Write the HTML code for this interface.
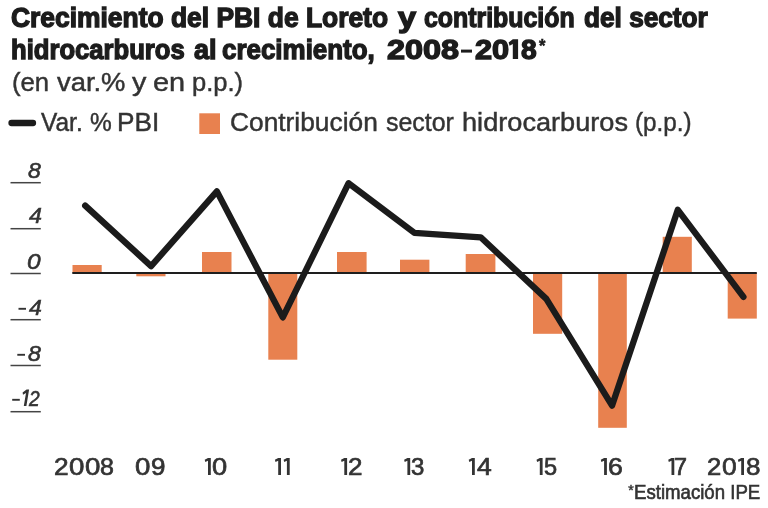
<!DOCTYPE html>
<html><head><meta charset="utf-8"><title>Crecimiento del PBI de Loreto</title>
<style>
html,body{margin:0;padding:0;background:#fff;}
body{width:768px;height:508px;position:relative;overflow:hidden;font-family:"Liberation Sans",sans-serif;}
#wrap{position:absolute;left:0;top:0;width:768px;height:508px;filter:blur(0.7px);}
.t{-webkit-text-stroke:0.45px currentColor;position:absolute;height:40px;line-height:0;white-space:nowrap;transform-origin:0 0;font-family:"Liberation Sans",sans-serif;}
.s{display:inline-block;height:40px;width:0;}
</style></head><body><div id="wrap">
<svg width="768" height="508" viewBox="0 0 768 508" style="position:absolute;left:0;top:0">
<rect x="72.5" y="265" width="29.2" height="8.0" fill="#e8814f"/>
<rect x="136.3" y="273.0" width="29.2" height="3.3" fill="#e8814f"/>
<rect x="202" y="252" width="29.5" height="21.0" fill="#e8814f"/>
<rect x="268.3" y="273.0" width="29.0" height="86.7" fill="#e8814f"/>
<rect x="337" y="252" width="29.6" height="21.0" fill="#e8814f"/>
<rect x="400" y="259.7" width="29.4" height="13.3" fill="#e8814f"/>
<rect x="465.7" y="254" width="29.7" height="19.0" fill="#e8814f"/>
<rect x="533" y="273.0" width="29.2" height="60.8" fill="#e8814f"/>
<rect x="598.2" y="273.0" width="28.6" height="154.8" fill="#e8814f"/>
<rect x="662.7" y="236.8" width="29.1" height="36.2" fill="#e8814f"/>
<rect x="727.7" y="273.0" width="29.1" height="45.6" fill="#e8814f"/>
<line x1="72.3" y1="273.0" x2="756.8" y2="273.0" stroke="#1e1e1e" stroke-width="1.9"/>
<line x1="10.5" y1="182.7" x2="40.8" y2="182.7" stroke="#444" stroke-width="1.5"/>
<line x1="10.5" y1="228.7" x2="40.8" y2="228.7" stroke="#444" stroke-width="1.5"/>
<line x1="10.5" y1="273.5" x2="40.8" y2="273.5" stroke="#444" stroke-width="1.5"/>
<line x1="10.5" y1="319.7" x2="40.8" y2="319.7" stroke="#444" stroke-width="1.5"/>
<line x1="10.5" y1="365.5" x2="40.8" y2="365.5" stroke="#444" stroke-width="1.5"/>
<line x1="10.5" y1="411.7" x2="40.8" y2="411.7" stroke="#444" stroke-width="1.5"/>
<polyline fill="none" stroke="#1b1b1b" stroke-width="6.3" stroke-linecap="round" stroke-linejoin="round" points="85.2,205.6 151.1,266.1 216.9,191.4 282.8,317.4 348.6,183.2 414.3,232.8 480.7,237.3 546.3,298.9 612.1,405.6 677.8,209.8 743.4,296.9"/>
<line x1="18.5" y1="308.8" x2="26.0" y2="308.8" stroke="#333" stroke-width="1.9"/>
<line x1="17.3" y1="354.8" x2="25.0" y2="354.8" stroke="#333" stroke-width="1.9"/>
<line x1="12.2" y1="399.8" x2="19.8" y2="399.8" stroke="#333" stroke-width="1.9"/>
<path fill="#333" d="M208.0,457.9 H210.8 V475.0 H208.0 V460.7 L205.3,462.1 L204.7,459.8 Z"/>
<path fill="#333" d="M278.2,457.9 H281.0 V475.0 H278.2 V460.7 L275.5,462.1 L274.9,459.8 Z"/>
<path fill="#333" d="M286.9,457.9 H289.7 V475.0 H286.9 V460.7 L284.2,462.1 L283.6,459.8 Z"/>
<path fill="#333" d="M344.3,457.9 H347.1 V475.0 H344.3 V460.7 L341.6,462.1 L341.0,459.8 Z"/>
<path fill="#333" d="M407.4,457.9 H410.2 V475.0 H407.4 V460.7 L404.7,462.1 L404.1,459.8 Z"/>
<path fill="#333" d="M472.0,457.9 H474.8 V475.0 H472.0 V460.7 L469.3,462.1 L468.7,459.8 Z"/>
<path fill="#333" d="M539.8,457.9 H542.6 V475.0 H539.8 V460.7 L537.1,462.1 L536.5,459.8 Z"/>
<path fill="#333" d="M604.1,457.9 H606.9 V475.0 H604.1 V460.7 L601.4,462.1 L600.8,459.8 Z"/>
<path fill="#333" d="M671.5,457.9 H674.3 V475.0 H671.5 V460.7 L668.8,462.1 L668.2,459.8 Z"/>
<path fill="#333" d="M741.2,457.9 H744.0 V475.0 H741.2 V460.7 L738.5,462.1 L737.9,459.8 Z"/>
<path fill="#333" d="M23.8,406 L26.4,406 L29.1,389.6 L26.6,389.6 L22.6,392.6 L23.0,394.7 L26.0,392.9 Z"/>
<line x1="461" y1="51.1" x2="472" y2="51.1" stroke="#1c1c1c" stroke-width="3"/>
<path fill="#1c1c1c" d="M512.8,39.3 H518.1 V59 H512.8 V44.0 L509.6,45.7 L508.6,42.6 Z"/>
<line x1="11.5" y1="123" x2="33" y2="123" stroke="#1b1b1b" stroke-width="6.3" stroke-linecap="round"/>
<rect x="199.3" y="113.3" width="20.7" height="20.7" fill="#e8814f"/>
</svg>
<div class="t" style="left:10.84px;top:-13.00px;font-size:27.5px;color:#1c1c1c;transform:scaleX(0.9601);font-weight:bold;-webkit-text-stroke:1.35px #1c1c1c"><i class="s"></i>Crecimiento del PBI de Loreto</div>
<div class="t" style="left:397.80px;top:-13.00px;font-size:27.5px;color:#1c1c1c;transform:scaleX(1.1812);font-weight:bold;-webkit-text-stroke:1.35px #1c1c1c"><i class="s"></i>y</div>
<div class="t" style="left:424.30px;top:-13.00px;font-size:27.5px;color:#1c1c1c;transform:scaleX(0.9042);font-weight:bold;-webkit-text-stroke:1.35px #1c1c1c"><i class="s"></i>contribución</div>
<div class="t" style="left:584.05px;top:-13.00px;font-size:27.5px;color:#1c1c1c;transform:scaleX(0.9527);font-weight:bold;-webkit-text-stroke:1.35px #1c1c1c"><i class="s"></i>del sector</div>
<div class="t" style="left:11.07px;top:19.00px;font-size:27.5px;color:#1c1c1c;transform:scaleX(0.9319);font-weight:bold;-webkit-text-stroke:1.35px #1c1c1c"><i class="s"></i>hidrocarburos</div>
<div class="t" style="left:194.00px;top:19.00px;font-size:27.5px;color:#1c1c1c;transform:scaleX(0.9818);font-weight:bold;-webkit-text-stroke:1.35px #1c1c1c"><i class="s"></i>al</div>
<div class="t" style="left:222.06px;top:19.00px;font-size:27.5px;color:#1c1c1c;transform:scaleX(0.9431);font-weight:bold;-webkit-text-stroke:1.35px #1c1c1c"><i class="s"></i>crecimiento,</div>
<div class="t" style="left:386.60px;top:19.00px;font-size:27.5px;color:#1c1c1c;transform:scaleX(1.1787);font-weight:bold;-webkit-text-stroke:1.35px #1c1c1c"><i class="s"></i>2008</div>
<div class="t" style="left:474.90px;top:19.00px;font-size:27.5px;color:#1c1c1c;transform:scaleX(1.1167);font-weight:bold;-webkit-text-stroke:1.35px #1c1c1c"><i class="s"></i>20</div>
<div class="t" style="left:521.30px;top:19.00px;font-size:27.5px;color:#1c1c1c;transform:scaleX(1.0267);font-weight:bold;-webkit-text-stroke:1.35px #1c1c1c"><i class="s"></i>8</div>
<div class="t" style="left:539.40px;top:11.80px;font-size:17.5px;color:#1c1c1c;transform:scaleX(0.9429);font-weight:bold;-webkit-text-stroke:0.5px #1c1c1c"><i class="s"></i>*</div>
<div class="t" style="left:11.71px;top:50.70px;font-size:26px;color:#333;transform:scaleX(0.9886);"><i class="s"></i>(en</div>
<div class="t" style="left:57.30px;top:50.70px;font-size:26px;color:#333;transform:scaleX(1.0523);"><i class="s"></i>var.%</div>
<div class="t" style="left:132.30px;top:50.70px;font-size:26px;color:#333;transform:scaleX(1.1077);"><i class="s"></i>y</div>
<div class="t" style="left:152.89px;top:50.70px;font-size:26px;color:#333;transform:scaleX(1.1111);"><i class="s"></i>en</div>
<div class="t" style="left:192.32px;top:50.70px;font-size:26px;color:#333;transform:scaleX(0.9800);"><i class="s"></i>p.p.)</div>
<div class="t" style="left:41.00px;top:91.30px;font-size:25.7px;color:#333;transform:scaleX(0.9524);"><i class="s"></i>Var.</div>
<div class="t" style="left:89.75px;top:91.30px;font-size:25.7px;color:#333;transform:scaleX(0.9524);"><i class="s"></i>%</div>
<div class="t" style="left:116.96px;top:91.30px;font-size:25.7px;color:#333;transform:scaleX(1.0189);"><i class="s"></i>PBI</div>
<div class="t" style="left:230.38px;top:91.30px;font-size:25.7px;color:#333;transform:scaleX(1.0246);"><i class="s"></i>Contribución</div>
<div class="t" style="left:385.73px;top:91.30px;font-size:25.7px;color:#333;transform:scaleX(0.9710);"><i class="s"></i>sector</div>
<div class="t" style="left:462.49px;top:91.30px;font-size:25.7px;color:#333;transform:scaleX(1.0571);"><i class="s"></i>hidrocarburos</div>
<div class="t" style="left:635.26px;top:91.30px;font-size:25.7px;color:#333;transform:scaleX(0.9431);"><i class="s"></i>(p.p.)</div>
<div class="t" style="left:27.50px;top:138.00px;font-size:22.9px;color:#333;transform:scaleX(1.0077);font-style:italic;-webkit-text-stroke:0.6px #333"><i class="s"></i>8</div>
<div class="t" style="left:28.50px;top:183.40px;font-size:22.9px;color:#333;transform:scaleX(1.0167);font-style:italic;-webkit-text-stroke:0.6px #333"><i class="s"></i>4</div>
<div class="t" style="left:26.83px;top:229.00px;font-size:22.9px;color:#333;transform:scaleX(1.0667);font-style:italic;-webkit-text-stroke:0.6px #333"><i class="s"></i>0</div>
<div class="t" style="left:28.50px;top:274.90px;font-size:22.9px;color:#333;transform:scaleX(1.0083);font-style:italic;-webkit-text-stroke:0.6px #333"><i class="s"></i>4</div>
<div class="t" style="left:27.50px;top:321.20px;font-size:22.9px;color:#333;transform:scaleX(1.0154);font-style:italic;-webkit-text-stroke:0.6px #333"><i class="s"></i>8</div>
<div class="t" style="left:29.10px;top:366.00px;font-size:22.9px;color:#333;transform:scaleX(0.8385);font-style:italic;-webkit-text-stroke:0.6px #333"><i class="s"></i>2</div>
<div class="t" style="left:628.20px;top:455.00px;font-size:14px;color:#333;transform:scaleX(1.0000);"><i class="s"></i>*</div>
<div class="t" style="left:634.29px;top:459.00px;font-size:20.4px;color:#333;transform:scaleX(0.9131);-webkit-text-stroke:0.65px #333"><i class="s"></i>Estimación IPE</div>
<div class="t" style="left:53.82px;top:435.00px;font-size:24.4px;color:#333;transform:scaleX(1.0750);-webkit-text-stroke:0.7px #333"><i class="s"></i>2</div>
<div class="t" style="left:69.17px;top:435.00px;font-size:24.4px;color:#333;transform:scaleX(1.1333);-webkit-text-stroke:0.7px #333"><i class="s"></i>0</div>
<div class="t" style="left:84.77px;top:435.00px;font-size:24.4px;color:#333;transform:scaleX(1.1333);-webkit-text-stroke:0.7px #333"><i class="s"></i>0</div>
<div class="t" style="left:100.47px;top:435.00px;font-size:24.4px;color:#333;transform:scaleX(1.0250);-webkit-text-stroke:0.7px #333"><i class="s"></i>8</div>
<div class="t" style="left:135.47px;top:435.00px;font-size:24.4px;color:#333;transform:scaleX(1.1333);-webkit-text-stroke:0.7px #333"><i class="s"></i>0</div>
<div class="t" style="left:151.13px;top:435.00px;font-size:24.4px;color:#333;transform:scaleX(1.0667);-webkit-text-stroke:0.7px #333"><i class="s"></i>9</div>
<div class="t" style="left:211.68px;top:435.00px;font-size:24.4px;color:#333;transform:scaleX(1.1167);-webkit-text-stroke:0.7px #333"><i class="s"></i>0</div>
<div class="t" style="left:347.53px;top:435.00px;font-size:24.4px;color:#333;transform:scaleX(1.0667);-webkit-text-stroke:0.7px #333"><i class="s"></i>2</div>
<div class="t" style="left:411.22px;top:435.00px;font-size:24.4px;color:#333;transform:scaleX(0.9833);-webkit-text-stroke:0.7px #333"><i class="s"></i>3</div>
<div class="t" style="left:476.80px;top:435.00px;font-size:24.4px;color:#333;transform:scaleX(1.0846);-webkit-text-stroke:0.7px #333"><i class="s"></i>4</div>
<div class="t" style="left:544.33px;top:435.00px;font-size:24.4px;color:#333;transform:scaleX(0.9667);-webkit-text-stroke:0.7px #333"><i class="s"></i>5</div>
<div class="t" style="left:607.81px;top:435.00px;font-size:24.4px;color:#333;transform:scaleX(1.0917);-webkit-text-stroke:0.7px #333"><i class="s"></i>6</div>
<div class="t" style="left:674.44px;top:435.00px;font-size:24.4px;color:#333;transform:scaleX(0.9583);-webkit-text-stroke:0.7px #333"><i class="s"></i>7</div>
<div class="t" style="left:707.35px;top:435.00px;font-size:24.4px;color:#333;transform:scaleX(1.0500);-webkit-text-stroke:0.7px #333"><i class="s"></i>2</div>
<div class="t" style="left:721.92px;top:435.00px;font-size:24.4px;color:#333;transform:scaleX(1.0833);-webkit-text-stroke:0.7px #333"><i class="s"></i>0</div>
<div class="t" style="left:746.03px;top:435.00px;font-size:24.4px;color:#333;transform:scaleX(1.0667);-webkit-text-stroke:0.7px #333"><i class="s"></i>8</div>
</div></body></html>
